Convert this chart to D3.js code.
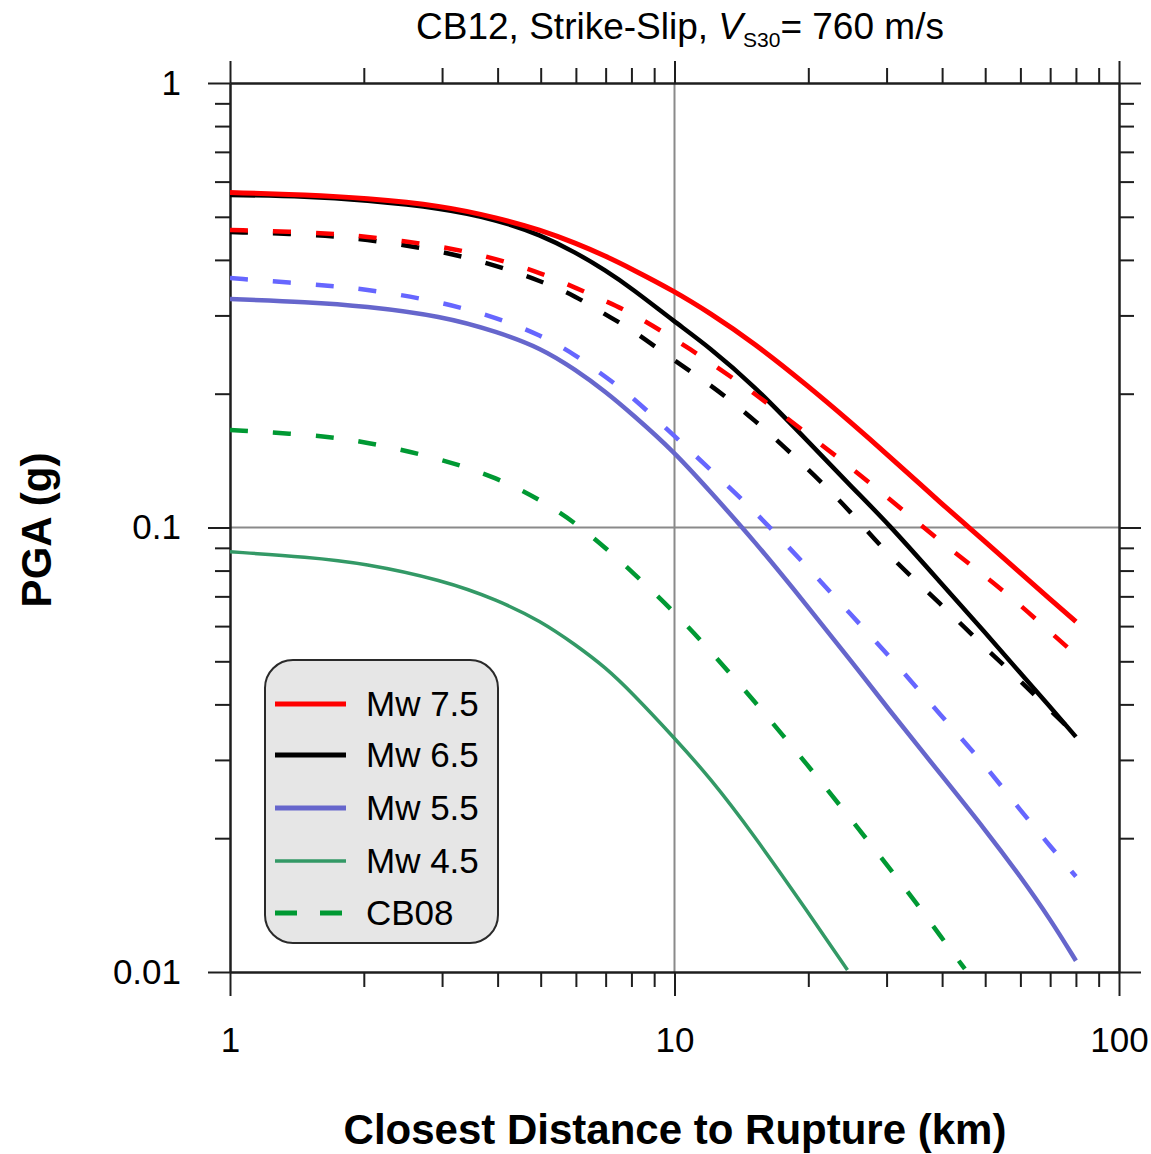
<!DOCTYPE html>
<html><head><meta charset="utf-8">
<script src="https://cdn.jsdelivr.net/npm/d3@7"></script>
<style>
body{margin:0;background:#fff}
svg{display:block}
text{font-family:"Liberation Sans",Arial,Helvetica,sans-serif;fill:#000}
</style>
</head><body>
<svg id="chart" width="1151" height="1154"></svg>
<script>
// ---------- data ----------
const distances = [1,1.5,2,3,4,5,6,7,8,10,12,15,20,25,30,40,50,60,70,80];
const cb12_mw75 = [0.567,0.560,0.551,0.530,0.497,0.467,0.436,0.408,0.382,0.340,0.304,0.2615,0.208,0.172,0.1465,0.1128,0.0930,0.0790,0.0690,0.0614];
const cb08_mw75 = [0.467,0.462,0.453,0.430,0.402,0.374,0.346,0.323,0.304,0.2655,0.2357,0.2018,0.1619,0.1361,0.1174,0.0923,0.0778,0.0669,0.0582,0.0517];
const cb12_mw65 = [0.560,0.556,0.545,0.523,0.492,0.455,0.4154,0.3786,0.3457,0.2905,0.2540,0.2098,0.156,0.1235,0.1030,0.0745,0.0580,0.0470,0.0395,0.0338];
const cb08_mw65 = [0.462,0.457,0.446,0.419,0.388,0.3585,0.3318,0.3007,0.2797,0.2369,0.2103,0.1763,0.1354,0.1083,0.0872,0.0669,0.0536,0.0452,0.0388,0.0341];
const cb12_mw55 = [0.3266,0.3216,0.315,0.299,0.2754,0.2533,0.2261,0.202,0.1805,0.1478,0.1208,0.0942,0.0662,0.0500,0.0395,0.0276,0.0209,0.0164,0.01316,0.0106];
const cb08_mw55 = [0.364,0.353,0.345,0.3216,0.296,0.271,0.2444,0.218,0.1976,0.1606,0.1354,0.110,0.0811,0.0635,0.0522,0.0375,0.0292,0.0231,0.0192,0.0164];
const distances_cb12_mw45 = [1,1.5,2,3,4,5,6,7,8,10,12,15,20,24.5];
const cb12_mw45 = [0.0882,0.0858,0.0831,0.0762,0.0687,0.0616,0.0544,0.0484,0.0426,0.0336,0.0274,0.0205,0.0136,0.0101];
const distances_cb08_mw45 = [1,1.5,2,3,4,5,6,7,8,10,12,15,20,25,30,35,40,45];
const cb08_mw45 = [0.1657,0.1619,0.1565,0.1426,0.1293,0.1153,0.1023,0.0899,0.0798,0.0645,0.0530,0.0411,0.0291,0.0220,0.01746,0.0143,0.0119,0.01016];

const xMajorTicks = [1,10,100];
const xMinorTicks = [2,3,4,5,6,7,8,9,20,30,40,50,60,70,80,90];
const yMajorTicks = [0.01,0.1,1];
const yMinorTicks = [0.02,0.03,0.04,0.05,0.06,0.07,0.08,0.09,0.2,0.3,0.4,0.5,0.6,0.7,0.8,0.9];
const xTickLabels = ["1","10","100"];
const yTickLabels = ["0.01","0.1","1"];
const legendLabels = ["Mw 7.5","Mw 6.5","Mw 5.5","Mw 4.5","CB08"];

// ---------- setup ----------
const svg = d3.select("#chart");
const L=230, R=1119, T=83, B=972;
const x = d3.scaleLog().domain([1,100]).range([L,R]);
const y = d3.scaleLog().domain([0.01,1]).range([B,T]);
const axisColor = "#1e1e1e";

svg.append("defs").append("clipPath").attr("id","plotclip")
  .append("rect").attr("x",L).attr("y",T).attr("width",R-L).attr("height",B-T);

// gridlines
svg.append("line").attr("x1",x(10)).attr("x2",x(10)).attr("y1",T).attr("y2",B)
  .attr("stroke","#8a8a8a").attr("stroke-width",2);
svg.append("line").attr("x1",L).attr("x2",R).attr("y1",y(0.1)).attr("y2",y(0.1))
  .attr("stroke","#8a8a8a").attr("stroke-width",2);

// axes
function styleAxis(g){
  g.selectAll("path,line").attr("stroke",axisColor).attr("stroke-width",2);
  g.selectAll("text").style("font-size","35px").attr("fill","#000");
}
const fmtX = d => xTickLabels[xMajorTicks.indexOf(d)];
const fmtY = d => yTickLabels[yMajorTicks.indexOf(d)];

svg.append("g").attr("transform",`translate(0,${B})`)
  .call(d3.axisBottom(x).tickValues(xMinorTicks).tickSize(15).tickSizeOuter(0).tickFormat("")).call(styleAxis);
svg.append("g").attr("transform",`translate(0,${B})`)
  .call(d3.axisBottom(x).tickValues(xMajorTicks).tickSize(24).tickSizeOuter(0).tickPadding(31).tickFormat(fmtX)).call(styleAxis);
svg.append("g").attr("transform",`translate(0,${T})`)
  .call(d3.axisTop(x).tickValues(xMinorTicks).tickSize(15).tickSizeOuter(0).tickFormat("")).call(styleAxis);
svg.append("g").attr("transform",`translate(0,${T})`)
  .call(d3.axisTop(x).tickValues(xMajorTicks).tickSize(22).tickSizeOuter(0).tickFormat("")).call(styleAxis);
svg.append("g").attr("transform",`translate(${L},0)`)
  .call(d3.axisLeft(y).tickValues(yMinorTicks).tickSize(15).tickSizeOuter(0).tickFormat("")).call(styleAxis);
svg.append("g").attr("transform",`translate(${L},0)`)
  .call(d3.axisLeft(y).tickValues(yMajorTicks).tickSize(22).tickSizeOuter(0).tickPadding(27).tickFormat(fmtY)).call(styleAxis);
svg.append("g").attr("transform",`translate(${R},0)`)
  .call(d3.axisRight(y).tickValues(yMinorTicks).tickSize(15).tickSizeOuter(0).tickFormat("")).call(styleAxis);
svg.append("g").attr("transform",`translate(${R},0)`)
  .call(d3.axisRight(y).tickValues(yMajorTicks).tickSize(22).tickSizeOuter(0).tickFormat("")).call(styleAxis);

// ---------- curves ----------
const line = d3.line().x(d=>x(d[0])).y(d=>y(d[1])).curve(d3.curveBasis);
const plot = svg.append("g").attr("clip-path","url(#plotclip)");
const series = [
  {d:distances, v:cb12_mw55, c:"#6666cc", w:4.5, dash:null},
  {d:distances_cb12_mw45, v:cb12_mw45, c:"#339966", w:3.5, dash:null},
  {d:distances, v:cb12_mw65, c:"#000000", w:4.5, dash:null},
  {d:distances, v:cb12_mw75, c:"#ff0000", w:5, dash:null},
  {d:distances_cb08_mw45, v:cb08_mw45, c:"#009933", w:4.5, dash:"18,25"},
  {d:distances, v:cb08_mw55, c:"#6666ff", w:4.5, dash:"18,25"},
  {d:distances, v:cb08_mw65, c:"#000000", w:4.5, dash:"18,25"},
  {d:distances, v:cb08_mw75, c:"#ff0000", w:4.5, dash:"18,25"}
];
series.forEach(s=>{
  plot.append("path").datum(s.d.map((dd,i)=>[dd,s.v[i]]))
    .attr("d",line).attr("fill","none").attr("stroke",s.c)
    .attr("stroke-width",s.w).attr("stroke-dasharray",s.dash);
});

// ---------- legend ----------
const lg = svg.append("g");
lg.append("rect").attr("x",265).attr("y",660).attr("width",233).attr("height",283)
  .attr("rx",28).attr("ry",28).attr("fill","#e6e6e6").attr("stroke","#2a2a2a").attr("stroke-width",2);
const legendStyles = [
  {c:"#ff0000", w:5, dash:null},
  {c:"#000000", w:5, dash:null},
  {c:"#6666cc", w:5, dash:null},
  {c:"#339966", w:3.5, dash:null},
  {c:"#009933", w:5, dash:"22,23"}
];
const legendY = [704,755,808,861,913];
legendLabels.forEach((lab,i)=>{
  const st = legendStyles[i];
  lg.append("line").attr("x1",275).attr("x2",346).attr("y1",legendY[i]).attr("y2",legendY[i])
    .attr("stroke",st.c).attr("stroke-width",st.w).attr("stroke-dasharray",st.dash);
  lg.append("text").attr("x",366).attr("y",legendY[i]+12).style("font-size","35px").text(lab);
});

// ---------- titles ----------
const title = svg.append("text").attr("x",680).attr("y",39).attr("text-anchor","middle").style("font-size","37px");
title.append("tspan").text("CB12, Strike-Slip, ");
title.append("tspan").style("font-style","italic").text("V");
title.append("tspan").style("font-size","21px").attr("dy",8).text("S30");
title.append("tspan").attr("dy",-8).text("= 760 m/s");

svg.append("text").attr("x",675).attr("y",1144).attr("text-anchor","middle")
  .style("font-size","42px").style("font-weight","bold").text("Closest Distance to Rupture (km)");
svg.append("text").attr("transform","translate(51,530) rotate(-90)").attr("text-anchor","middle")
  .style("font-size","42px").style("font-weight","bold").text("PGA (g)");
</script>
</body></html>
